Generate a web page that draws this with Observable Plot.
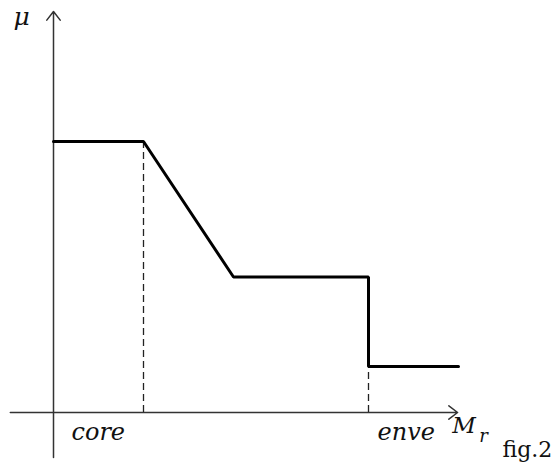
<!DOCTYPE html>
<html>
<head>
<meta charset="utf-8">
<script src="https://cdn.jsdelivr.net/npm/d3@7"></script>
<script src="https://cdn.jsdelivr.net/npm/@observablehq/plot@0.6"></script>
<style>
  html, body { margin: 0; padding: 0; background: #fff; }
  #chart svg { display: block; }
</style>
</head>
<body>
<div id="chart"></div>
<script>
// Membership function breakpoints (M_r on x, mu on y)
const mrValues = [0, 1, 2, 3.5, 3.5, 4.5];
const muValues = [1, 1, 0.5, 0.5, 0.17, 0.17];
// Dashed guide positions: core and enve
const guideX = [1, 3.5];
const guideTop = [1, 0.17];
// Labels
const axisLabels = ["core", "enve"];
const yAxisLabel = "μ";
const xAxisLabel = "M";
const xAxisSub = "r";
const figLabel = "fig.2";

const curve = mrValues.map((x, i) => ({x, y: muValues[i]}));
const guides = guideX.map((x, i) => ({x, y1: 0, y2: guideTop[i]}));

const serif = "DejaVu Serif";
const txt = (s, x, y, opts = {}) => Plot.text([s], {
  x: () => x, y: () => y, text: d => d, textAnchor: "start", lineAnchor: "bottom",
  fontFamily: serif, fill: "#111", ...opts
});

const chart = Plot.plot({
  width: 557,
  height: 469,
  margin: 0,
  x: {type: "linear", domain: [0, 1], range: [53, 143], axis: null},
  y: {type: "linear", domain: [0, 1], range: [412, 141], axis: null},
  style: {background: "#fff"},
  marks: [
    // axes with arrowheads
    Plot.arrow([0], {x1: -0.48, y1: 0, x2: 4.49, y2: 0, stroke: "#333", strokeWidth: 1.5, headLength: 11, headAngle: 75}),
    Plot.arrow([0], {x1: 0, y1: -0.166, x2: 0, y2: 1.48, stroke: "#333", strokeWidth: 1.5, headLength: 11, headAngle: 75}),
    // dashed guides
    Plot.ruleX(guides, {x: "x", y1: "y1", y2: "y2", stroke: "#222", strokeWidth: 1.3, strokeDasharray: "7,4"}),
    // membership curve
    Plot.line(curve, {x: "x", y: "y", stroke: "#000", strokeWidth: 3, strokeLinejoin: "miter"}),
    // labels
    txt(axisLabels[0], 0.2, -0.103, {fontSize: 24, fontStyle: "italic"}),
    txt(axisLabels[1], 3.6, -0.103, {fontSize: 24, fontStyle: "italic"}),
    txt(yAxisLabel, -0.444, 1.43, {fontSize: 25, fontStyle: "italic"}),
    txt(xAxisLabel, 4.43, -0.074, {fontSize: 23, fontStyle: "italic"}),
    txt(xAxisSub, 4.73, -0.11, {fontSize: 18, fontStyle: "italic"}),
    txt(figLabel, 4.99, -0.166, {fontSize: 22})
  ]
});
document.getElementById("chart").append(chart);
</script>
</body>
</html>
